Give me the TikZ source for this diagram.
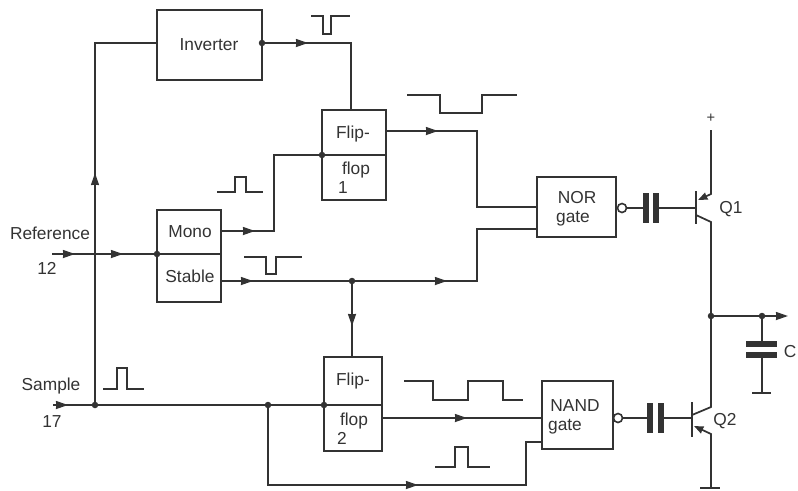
\documentclass[tikz,border=0pt]{standalone}
\usepackage{fontspec}
\setmainfont{Liberation Sans}
\usetikzlibrary{arrows.meta,decorations.markings}
\definecolor{ink}{HTML}{333333}
\newcommand{\pxu}{0.75pt}
\tikzset{
  blk/.style={draw=ink,line width=1.75pt,rectangle,anchor=north west,inner sep=0pt,outer sep=0pt},
  wire/.style={draw=ink,line width=1.3pt,line join=miter},
  wave/.style={draw=ink,line width=1.25pt},
  lbl/.style={text=ink,anchor=base,inner sep=0pt,font=\fontsize{13}{15}\selectfont},
  dotn/.style={circle,fill=ink,inner sep=0pt,minimum size=6.5*\pxu},
  bub/.style={circle,draw=ink,fill=white,line width=1.2pt,inner sep=0pt,minimum size=9*\pxu},
  plate/.style={draw=ink,line width=3.8pt},
  bar/.style={draw=ink,line width=1.7pt},
  tipat/.style={postaction={decorate,decoration={markings,mark=at position #1*0.75pt with {\arrow{Stealth[length=9pt,width=6pt,inset=0.3pt]}}}}},
  endtip/.style={-{Stealth[length=9pt,width=6pt,inset=0.3pt]}},
  smalltip/.style={-{Stealth[length=7pt,width=5.5pt,inset=0.2pt]}}
}
\begin{document}
\begin{tikzpicture}[x=0.75pt,y=-0.75pt]
\useasboundingbox (0,0) rectangle (798,490);
% blocks
\node[blk,minimum width=105*\pxu,minimum height=70*\pxu] (inv) at (157,10) {};
\node[blk,minimum width=64*\pxu,minimum height=45*\pxu] (ff1a) at (322,110) {};
\node[blk,minimum width=64*\pxu,minimum height=45*\pxu] (ff1b) at (322,155) {};
\node[blk,minimum width=64*\pxu,minimum height=44*\pxu] (mono) at (157,210) {};
\node[blk,minimum width=64*\pxu,minimum height=48*\pxu] (stab) at (157,254) {};
\node[blk,minimum width=79*\pxu,minimum height=60*\pxu] (nor) at (537,177) {};
\node[blk,minimum width=58*\pxu,minimum height=48*\pxu] (ff2a) at (324,357) {};
\node[blk,minimum width=58*\pxu,minimum height=46*\pxu] (ff2b) at (324,405) {};
\node[blk,minimum width=71*\pxu,minimum height=68*\pxu] (nand) at (542,381) {};
% labels
\node[lbl] (tinv) at (209,50) {Inverter};
\node[lbl] (tf1) at (353,138) {Flip-};
\node[lbl] (tf2) at (356,174) {flop};
\node[lbl] (tf3) at (343,193) {1};
\node[lbl] (tmono) at (190,237) {Mono};
\node[lbl] (tstab) at (190,282) {Stable};
\node[lbl] (tref) at (50,239) {Reference};
\node[lbl] (t12) at (47,274) {12};
\node[lbl] (tsam) at (51,390) {Sample};
\node[lbl] (t17) at (52,427) {17};
\node[lbl] (tnor) at (577,203) {NOR};
\node[lbl] (tnorg) at (573,222) {gate};
\node[lbl] (tnand) at (575,411) {NAND};
\node[lbl] (tnandg) at (565,430) {gate};
\node[lbl] (tg1) at (353,385) {Flip-};
\node[lbl] (tg2) at (354,425) {flop};
\node[lbl] (tg3) at (342,444) {2};
\node[lbl] (tq1) at (731,213) {Q1};
\node[lbl] (tq2) at (725,425) {Q2};
\node[lbl] (tc) at (790,357) {C};
\node[lbl,anchor=center,font=\fontsize{11}{13}\selectfont] (tplus) at (711,118) {+};
% junctions
\node[dotn] (jS) at (95,405) {};
\node[dotn] (jL) at (268,405) {};
\node[dotn] (jF) at (324,405) {};
\node[dotn] (jM) at (322,155) {};
\node[dotn] (jR) at (157,254) {};
\node[dotn] (jI) at (262,43) {};
\node[dotn] (jD) at (352,281) {};
\node[dotn] (jO) at (711,316) {};
\node[dotn] (jC) at (762,316) {};
% free ends and corners
\coordinate (inRef) at (52,254);
\coordinate (inSam) at (53,405);
\coordinate (nor1) at (537,207);
\coordinate (nor2) at (537,229);
\coordinate (nand1) at (542,418);
\coordinate (nand2) at (542,442);
\coordinate (monoOut) at (221,231);
\coordinate (stabOut) at (221,281);
\coordinate (f1Out) at (386,131);
\coordinate (f2Out) at (382,418);
\coordinate (invIn) at (157,43);
\coordinate (f1In) at (351,110);
\coordinate (f2In) at (352,357);
% wires
\draw[wire,tipat=232] (jS.center) -- (95,43) -- (invIn);
\draw[wire,tipat=46] (jI.center) -- (351,43) -- (f1In);
\draw[wire,tipat=23,tipat=71] (inRef) -- (jR.center);
\draw[wire,tipat=34] (monoOut) -- (274,231) -- (274,155) -- (jM.center);
\draw[wire,tipat=52] (f1Out) -- (477,131) -- (477,207) -- (nor1);
\draw[wire,tipat=32,tipat=226] (stabOut) -- (477,281) -- (477,229) -- (nor2);
\draw[wire,tipat=45] (jD.center) -- (f2In);
\draw[wire,tipat=15] (inSam) -- (jF.center);
\draw[wire,tipat=85] (f2Out) -- (nand1);
\draw[wire,tipat=230] (jL.center) -- (268,485) -- (526,485) -- (526,442) -- (nand2);
% NOR output and Q1
\node[bub] (bn) at (622,208) {};
\draw[plate] (646,193) -- (646,223);
\draw[plate] (656,193) -- (656,223);
\coordinate (cn1) at (646,208);
\coordinate (cn2) at (656,208);
\coordinate (q1b) at (696,208);
\draw[wire] (bn) -- (cn1);
\draw[wire] (cn2) -- (q1b);
\draw[bar] (696,191) -- (696,224);
\draw[wire,smalltip] (711,130) -- (711,194) -- (698,200);
\draw[wire] (696,215) -- (711,222) -- (jO.center);
% NAND output and Q2
\node[bub] (bd) at (618,418) {};
\draw[plate] (650,403) -- (650,433);
\draw[plate] (661,403) -- (661,433);
\coordinate (cd1) at (650,418);
\coordinate (cd2) at (661,418);
\coordinate (q2b) at (692,418);
\draw[wire] (bd) -- (cd1);
\draw[wire] (cd2) -- (q2b);
\draw[bar] (692,402) -- (692,437);
\draw[wire] (jO.center) -- (711,407) -- (692,415);
\draw[wire,smalltip] (711,488) -- (711,434) -- (694,426);
\draw[bar] (700,488) -- (720,488);
% output and C
\draw[wire,endtip] (jO.center) -- (788,316);
\draw[wire] (jC.center) -- (762,344);
\draw[plate] (746,344) -- (777,344);
\draw[plate] (746,355) -- (777,355);
\draw[wire] (762,355) -- (762,393);
\draw[bar] (752,393) -- (771,393);
% waveforms
\draw[wave] (311,16) -- (323,16) -- (323,34) -- (331,34) -- (331,16) -- (350,16);
\draw[wave] (407,95) -- (440,95) -- (440,113) -- (482,113) -- (482,95) -- (517,95);
\draw[wave] (217,192) -- (235,192) -- (235,177) -- (246,177) -- (246,192) -- (263,192);
\draw[wave] (244,257) -- (266,257) -- (266,274) -- (276,274) -- (276,257) -- (302,257);
\draw[wave] (103,389) -- (117,389) -- (117,368) -- (127,368) -- (127,389) -- (144,389);
\draw[wave] (404,381) -- (433,381) -- (433,400) -- (468,400) -- (468,381) -- (503,381) -- (503,400) -- (523,400);
\draw[wave] (435,467) -- (455,467) -- (455,447) -- (468,447) -- (468,467) -- (490,467);
\end{tikzpicture}
\end{document}
